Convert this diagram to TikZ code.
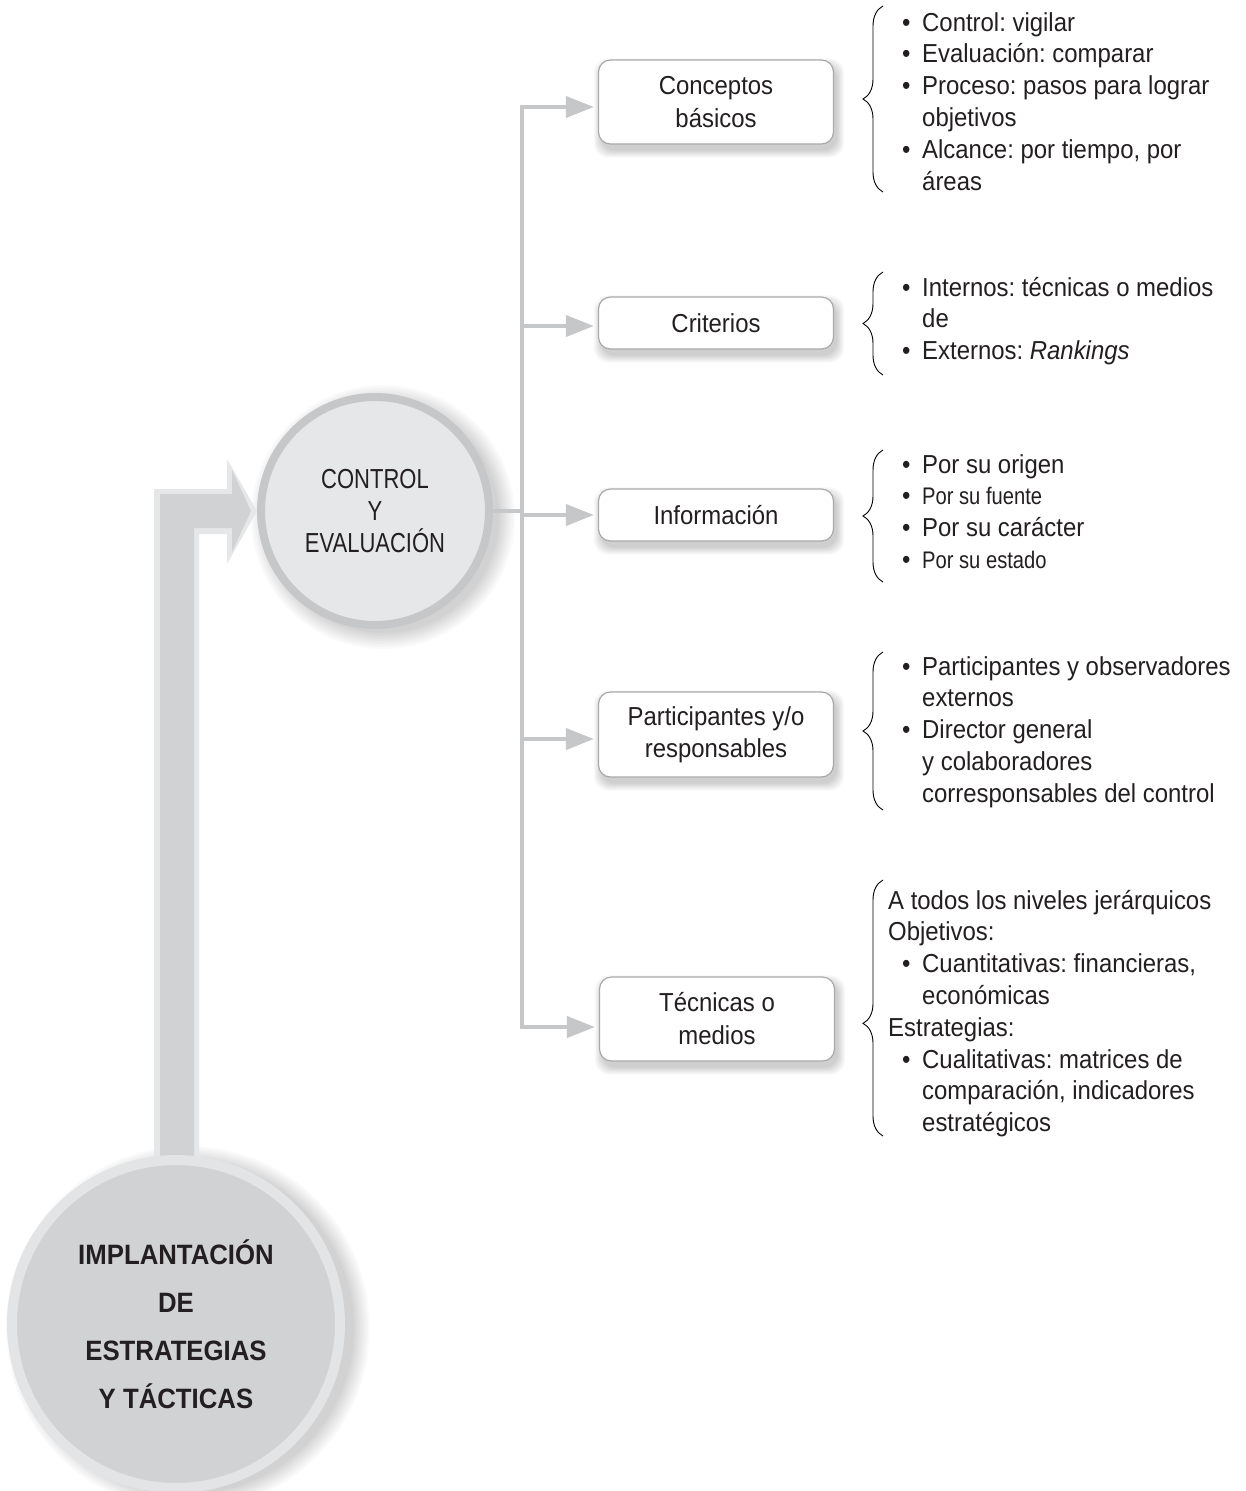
\documentclass[tikz,border=0pt]{standalone}
\usepackage{fontspec}
\setmainfont{Liberation Sans}[FakeStretch=0.92]
\newfontfamily\circfont{Liberation Sans}[FakeStretch=0.8]
\newfontfamily\thinfont{Liberation Sans}[FakeStretch=0.84]
\usetikzlibrary{arrows.meta,decorations.pathreplacing,calc,backgrounds}
\frenchspacing
\definecolor{lineg}{HTML}{C6C7C9}
\definecolor{ctrlfill}{HTML}{E6E7E8}
\definecolor{ringg}{HTML}{E3E4E5}
\definecolor{darkg}{HTML}{D1D2D4}
\definecolor{boxline}{HTML}{A7A9AC}
\definecolor{txt}{HTML}{231F20}
\newcommand{\bl}{\makebox[34pt][l]{\hspace*{14pt}\textbullet}}
\newcommand{\ct}{\hspace*{34pt}}
\newcommand{\boxshadow}[1]{%
  \begin{scope}[on background layer]
    \foreach \k in {0,...,7}{%
      \fill[black,opacity=0.022,rounded corners=14pt]
        ($(#1.south west)+(3-\k,6+\k)$) rectangle ($(#1.north east)+(3+\k,6-\k)$);}
  \end{scope}}
\newcommand{\circshadow}[4]{%
  \begin{scope}[on background layer]
    \foreach \k in {0,2,...,16}{%
      \fill[black,opacity=0.02] ($(#1.center)+(#2,#3)$) circle[radius=#4+\k];}
  \end{scope}}
\begin{document}
\begin{tikzpicture}[x=1pt,y=-1pt,
  conn/.style={draw=lineg, line width=4pt},
  tiparrow/.style={-{Triangle[length=28pt,width=21pt]}, shorten >=4pt},
  box/.style={draw=boxline, line width=1.2pt, fill=white, rounded corners=12pt,
    minimum width=235pt, inner sep=0pt, align=center,
    font=\fontsize{26}{33}\selectfont, text=txt},
  lst/.style={inner sep=0pt, anchor=base west, text=txt,
    font=\fontsize{26}{31.8}\selectfont},
  bracestyle/.style={draw=black, line width=0.9pt, decorate,
    decoration={brace, amplitude=20pt}}]
\useasboundingbox (0,0) rectangle (1246,1491);
\begin{scope}[on background layer]
  \fill[white] (0,0) rectangle (1246,1491);
\end{scope}

% circles
\node[circle, draw=lineg, line width=8pt, fill=ctrlfill, minimum size=228pt,
  inner sep=0pt, align=center, text=txt,
  font=\circfont\fontsize{27.5}{32}\selectfont] (ctrl) at (375,511)
  {CONTROL\\Y\\EVALUACIÓN};
\node[circle, draw=ringg, line width=10pt, fill=darkg, minimum size=328pt,
  inner sep=0pt, align=center, text=txt,
  font=\bfseries\fontsize{28}{48}\selectfont] (impl) at (176,1324)
  {IMPLANTACIÓN\\DE\\ESTRATEGIAS\\Y TÁCTICAS};

% boxes
\node[box, minimum height=84pt] (b1) at (716,102) {Conceptos\\básicos};
\node[box, minimum height=52pt] (b2) at (716,323) {Criterios};
\node[box, minimum height=52pt] (b3) at (716,515) {Información};
\node[box, minimum height=85pt, font=\fontsize{26}{32}\selectfont] (b4) at (716,734.5) {Participantes y/o\\responsables};
\node[box, minimum height=84pt] (b5) at (717,1019) {Técnicas o\\medios};

\boxshadow{b1}\boxshadow{b2}\boxshadow{b3}\boxshadow{b4}\boxshadow{b5}
\circshadow{ctrl}{8}{6}{116}
\circshadow{impl}{12}{4}{166}

% big arrow from impl to ctrl
\coordinate (corner) at (impl.center |- ctrl.west);
\begin{scope}[on background layer]
  \fill[ctrlfill] ($(impl.center)+(-22,0)$) -- ($(corner)+(-22,-22)$)
    -- ($(corner)+(51,-22)$) -- ($(corner)+(51,-52)$) -- (ctrl.west)
    -- ($(corner)+(51,53)$) -- ($(corner)+(51,23)$) -- ($(corner)+(23,23)$)
    -- ($(impl.center)+(23,0)$) -- cycle;
  \fill[darkg] ($(impl.center)+(-16,0)$) -- ($(corner)+(-16,-17)$)
    -- ($(corner)+(56,-17)$) -- ($(corner)+(56,-41)$) -- ($(ctrl.west)+(-6,0)$)
    -- ($(corner)+(56,41)$) -- ($(corner)+(56,17)$) -- ($(corner)+(18,17)$)
    -- ($(impl.center)+(18,0)$) -- cycle;
\end{scope}

% connectors
\coordinate (j1) at (522,107);
\coordinate (j2) at (522,326);
\coordinate (j3) at (522,515);
\coordinate (j4) at (522,739);
\coordinate (j5) at (522,1027);
\draw[conn] (ctrl.east) -- (ctrl.east -| j1);
\draw[conn, line cap=rect] (j1) -- (j5);
\draw[conn, tiparrow] (j1) -- (j1 -| b1.west);
\draw[conn, tiparrow] (j2) -- (j2 -| b2.west);
\draw[conn, tiparrow] (j3) -- (j3 -| b3.west);
\draw[conn, tiparrow] (j4) -- (j4 -| b4.west);
\draw[conn, tiparrow] (j5) -- (j5 -| b5.west);

% lists
\node[lst] (l1) at (888,31) {\parbox[t]{358pt}{%
  \bl Control: vigilar\\
  \bl Evaluación: comparar\\
  \bl Proceso: pasos para lograr\\
  \ct objetivos\\
  \bl Alcance: por tiempo, por\\
  \ct áreas}};
\node[lst] (l2) at (888,296) {\parbox[t]{358pt}{%
  \bl Internos: técnicas o medios\\
  \ct de\\
  \bl Externos: \textit{Rankings}}};
\node[lst] (l3) at (888,473) {\parbox[t]{358pt}{%
  \bl Por su origen\\
  \bl {\thinfont\fontsize{24}{31.8}\selectfont Por su fuente}\\
  \bl Por su carácter\\
  \bl {\thinfont\fontsize{24}{31.8}\selectfont Por su estado}}};
\node[lst] (l4) at (888,675) {\parbox[t]{358pt}{%
  \bl Participantes y observadores\\
  \ct externos\\
  \bl Director general\\
  \ct y colaboradores\\
  \ct corresponsables del control}};
\node[lst] (l5) at (888,909) {\parbox[t]{358pt}{%
  A todos los niveles jerárquicos\\
  Objetivos:\\
  \bl Cuantitativas: financieras,\\
  \ct económicas\\
  Estrategias:\\
  \bl Cualitativas: matrices de\\
  \ct comparación, indicadores\\
  \ct estratégicos}};

% braces
\draw[bracestyle] (883,192) -- (883,6);
\draw[bracestyle] (883,375) -- (883,272);
\draw[bracestyle] (883,582) -- (883,450);
\draw[bracestyle] (883,810) -- (883,652);
\draw[bracestyle, decoration={brace, amplitude=20pt, aspect=0.44}] (883,1136) -- (883,880);
\end{tikzpicture}
\end{document}
